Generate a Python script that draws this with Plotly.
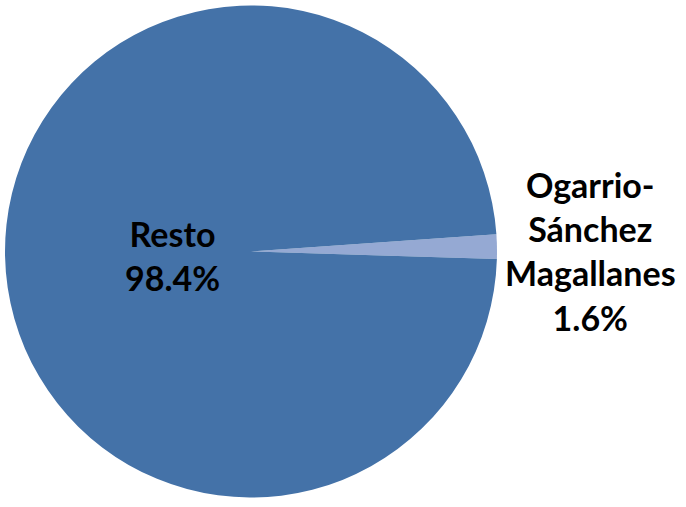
import plotly.graph_objects as go

labels = ["Ogarrio-Sánchez Magallanes", "Resto"]
label_lines = [["Ogarrio-", "Sánchez", "Magallanes"], ["Resto"]]
values = [1.6, 98.4]
colors = ["#95A9D3", "#4472A8"]

W, H = 686, 507

fig = go.Figure(go.Pie(
    labels=labels,
    values=values,
    sort=False,
    direction="clockwise",
    rotation=86,
    marker=dict(colors=colors, line=dict(width=0)),
    textinfo="none",
    hoverinfo="label+percent",
    domain=dict(x=[5 / W, 497 / W], y=[9 / H, 502 / H]),
    showlegend=False,
))

# label positions in paper coordinates (x centre, y centre)
label_pos = [(590 / W, 1 - 251 / H), (172 / W, 1 - 255 / H)]
total = sum(values)
for lines, v, (px, py) in zip(label_lines, values, label_pos):
    txt = "<br>".join(lines + [f"{v / total * 100:.1f}%"])
    fig.add_annotation(
        x=px, y=py, xref="paper", yref="paper",
        text=txt, showarrow=False, align="center",
        xanchor="center", yanchor="middle",
        font=dict(family="Lato", size=34, color="#000000", weight="bold"),
    )

fig.update_layout(
    width=W, height=H,
    margin=dict(l=0, r=0, t=0, b=0),
    paper_bgcolor="white",
    plot_bgcolor="white",
)

fig.write_html("out.html")
